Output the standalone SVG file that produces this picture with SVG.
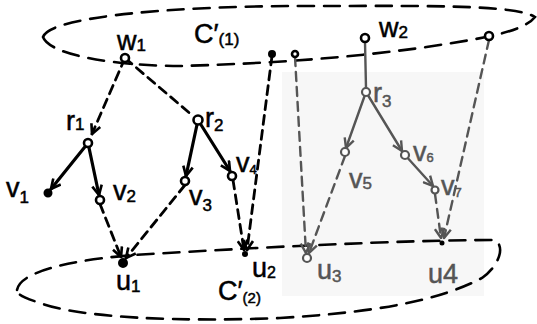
<svg xmlns="http://www.w3.org/2000/svg" width="537" height="324" viewBox="0 0 537 324">
<style>
.el{fill:none;stroke:#000;stroke-width:2.6;stroke-dasharray:16 10;stroke-linecap:round}
.sol{fill:none;stroke:#000;stroke-width:3.2;stroke-linecap:round}
.dash{fill:none;stroke:#000;stroke-width:2.8;stroke-dasharray:9 6;stroke-linecap:round}
.g{stroke:#555;stroke-width:2.4}
.nd{fill:#fff;stroke:#000;stroke-width:2.6}
.ng{fill:#fff;stroke:#555;stroke-width:2.2}
.fd{fill:#000;stroke:#000;stroke-width:2}
.t{font-family:"Liberation Sans",Arial,sans-serif;font-size:27px;fill:#000;stroke:#000;stroke-width:0.5}
.tg{fill:#555;stroke:#555}
.s{font-size:17px}
</style>
<defs>
<marker id="ah" viewBox="0 0 10 10" refX="9" refY="5" markerWidth="12" markerHeight="12" orient="auto" markerUnits="userSpaceOnUse"><path d="M1,1 L9,5 L1,9" fill="none" stroke="#000" stroke-width="2.2"/></marker>
<marker id="ahg" viewBox="0 0 10 10" refX="9" refY="5" markerWidth="12" markerHeight="12" orient="auto" markerUnits="userSpaceOnUse"><path d="M1,1 L9,5 L1,9" fill="none" stroke="#555" stroke-width="2"/></marker>
</defs>
<rect x="282" y="72" width="202" height="224" fill="#f7f7f7"/>
<g id="clusters">
<path class="el" d="M43 37 C50 15 190 6 300 6 C420 6 515 4 535 17 C522 34 470 40 420 48 C330 60 250 64 180 66 C120 66 50 56 43 37 Z"/>
<path class="el" d="M17 290 C20 270 80 258 150 254 C250 248 400 240 495 240 C505 246 500 265 482 278 C440 300 380 312 280 318 C180 322 80 318 40 303 C25 298 17 295 17 290 Z"/>
</g>
<g id="connectors">
<path class="dash" d="M125 58 L92 134" marker-end="url(#ah)"/>
<path class="dash" d="M125 58 L193 116"/>
<path class="sol" d="M88 143 L51 189" marker-end="url(#ah)"/>
<path class="sol" d="M88 143 L99 195" marker-end="url(#ah)"/>
<path class="sol" d="M198 120 L186 176" marker-end="url(#ah)"/>
<path class="sol" d="M198 120 L230 171" marker-end="url(#ah)"/>
<path class="dash" d="M100 204 L121 257" marker-end="url(#ah)"/>
<path class="dash" d="M185 185 L126 258" marker-end="url(#ah)"/>
<path class="dash" d="M233 180 L244 250" marker-end="url(#ah)"/>
<path class="dash" d="M272 56 L247 250" marker-end="url(#ah)"/>
<path class="dash g" d="M295 57 L306 253" marker-end="url(#ahg)"/>
<path class="dash g" d="M345 156 L309 253" marker-end="url(#ahg)"/>
<path class="dash g" d="M435 194 L441 238" marker-end="url(#ahg)"/>
<path class="dash g" d="M489 40 L444 238" marker-end="url(#ahg)" stroke-dasharray="22 12"/>
<path class="sol g" d="M365 42 L366 88"/>
<path class="sol g" d="M366 92 L346 148" marker-end="url(#ahg)"/>
<path class="sol g" d="M366 92 L402 151" marker-end="url(#ahg)"/>
<path class="sol g" d="M405 155 L433 186" marker-end="url(#ahg)"/>
</g>
<g id="w1"><circle class="nd" cx="125" cy="58" r="4"/><text class="t" x="117" y="50" font-size="25">w<tspan class="s" dy="1">1</tspan></text></g>
<g id="c1"><text class="t" x="194" y="43" font-size="24">C′<tspan class="s" dy="2">(1)</tspan></text></g>
<g id="r1"><circle class="nd" cx="88" cy="143" r="4"/><text class="t" x="66" y="130">r<tspan class="s" dy="0">1</tspan></text></g>
<g id="r2"><circle class="nd" cx="198" cy="120" r="4.5"/><text class="t" x="205" y="127">r<tspan class="s" dy="4">2</tspan></text></g>
<g id="v1"><circle class="fd" cx="48" cy="193" r="3.5"/><text class="t" x="6" y="197" font-size="30">v<tspan class="s" dy="6">1</tspan></text></g>
<g id="v2"><circle class="nd" cx="100" cy="200" r="4"/><text class="t" x="113" y="200">v<tspan class="s" dy="2">2</tspan></text></g>
<g id="v3"><circle class="nd" cx="185" cy="181" r="4"/><text class="t" x="189" y="205">v<tspan class="s" dy="6">3</tspan></text></g>
<g id="v4"><circle class="nd" cx="232" cy="176" r="4"/><text class="t" x="236" y="172" font-size="18">v<tspan font-size="13" dy="2">4</tspan></text></g>
<g id="u1"><circle class="fd" cx="123" cy="263" r="4"/><text class="t" x="116" y="290">u<tspan class="s" dy="2">1</tspan></text></g>
<g id="u2"><circle class="fd" cx="245" cy="254" r="2"/><text class="t" x="252" y="277" font-size="23">u<tspan font-size="16" dy="1">2</tspan></text></g>
<g id="c2"><text class="t" x="218" y="300" font-size="24">C′<tspan font-size="15" dy="3">(2)</tspan></text></g>
<g id="n_a"><circle class="fd" cx="272" cy="54" r="3"/></g>
<g id="n_b"><circle class="nd" cx="295" cy="54" r="3"/></g>
<g id="w2"><circle class="nd" cx="365" cy="38" r="4"/><text class="t" x="379" y="37" font-size="28">w<tspan class="s" dy="1">2</tspan></text></g>
<g id="n_c"><circle class="nd" cx="489" cy="36" r="4"/></g>
<g id="r3"><circle class="ng" cx="366" cy="92" r="4"/><text class="t tg" x="373" y="102">r<tspan class="s" dy="5">3</tspan></text></g>
<g id="v5"><circle class="ng" cx="345" cy="152" r="4"/><text class="t tg" x="349" y="188" font-size="26">v<tspan class="s" dy="1">5</tspan></text></g>
<g id="v6"><circle class="ng" cx="405" cy="155" r="4"/><text class="t tg" x="413" y="161" font-size="18">v<tspan font-size="13" dy="1">6</tspan></text></g>
<g id="v7"><circle class="ng" cx="435" cy="190" r="3.5"/><text class="t tg" x="441" y="195" font-size="17">v<tspan font-size="13" dy="2">7</tspan></text></g>
<g id="u3"><circle class="ng" cx="307" cy="258" r="4"/><text class="t tg" x="317" y="279" font-size="22">u<tspan class="s" dy="3">3</tspan></text></g>
<g id="u4"><circle class="fd" cx="442" cy="243" r="1.5" fill="#555" stroke="#555"/><text class="t tg" x="428" y="283" font-size="28">u4</text></g>
</svg>
